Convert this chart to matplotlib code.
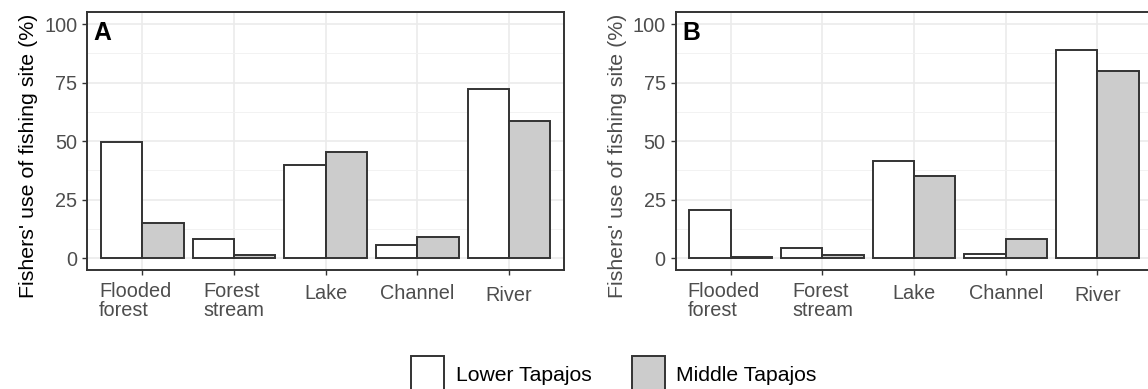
import matplotlib
matplotlib.use("Agg")
import matplotlib.pyplot as plt
import matplotlib.transforms as mtransforms
from matplotlib.patches import Patch
import numpy as np

plt.rcParams["font.family"] = ["Liberation Sans", "DejaVu Sans"]

CATEGORIES = ["Flooded\nforest", "Forest\nstream", "Lake", "Channel", "River"]
SERIES = ["Lower Tapajos", "Middle Tapajos"]

# panel A
LOWER_A = [49.5, 8.4, 39.8, 5.7, 72.2]
MIDDLE_A = [14.9, 1.4, 45.5, 8.9, 58.5]
# panel B
LOWER_B = [20.4, 4.4, 41.6, 2.0, 89.1]
MIDDLE_B = [0.7, 1.4, 35.0, 8.2, 79.9]

FILLS = ["white", "#CCCCCC"]
EDGE = "#333333"
TEXT_GREY = "#4D4D4D"
W, H = 1148, 389


def draw_panel(ax, lower, middle, tag, ylabel_color):
    x = np.arange(len(CATEGORIES))
    bw = 0.45
    for vals, off, fill in [(lower, -bw / 2, FILLS[0]), (middle, bw / 2, FILLS[1])]:
        ax.bar(x + off, vals, width=bw, color=fill, edgecolor=EDGE, linewidth=1.4, zorder=3)

    ax.set_xlim(-0.6, len(CATEGORIES) - 0.4)
    ax.set_ylim(-5, 105)
    ax.set_yticks([0, 25, 50, 75, 100])
    ax.set_yticks([12.5, 37.5, 62.5, 87.5], minor=True)
    ax.set_xticks(x)
    ax.set_xticklabels(CATEGORIES, linespacing=1.05, multialignment="left")
    ax.set_axisbelow(True)
    ax.grid(which="major", color="#EBEBEB", linewidth=1.2)
    ax.grid(which="minor", axis="y", color="#F2F2F2", linewidth=0.7)
    ax.tick_params(which="minor", length=0)
    ax.tick_params(which="major", length=3.6, width=1.0, color=EDGE,
                   labelcolor=TEXT_GREY, labelsize=14.3)
    ax.tick_params(axis="y", pad=3.6)
    ax.tick_params(axis="x", pad=4.8)
    for sp in ax.spines.values():
        sp.set_color(EDGE)
        sp.set_linewidth(1.4)

    ax.set_ylabel("Fishers' use of fishing site (%)", fontsize=15.4, color=ylabel_color)
    ax.yaxis.set_label_coords(-0.103, 0.445)
    ax.text(0.013, 0.968, tag, transform=ax.transAxes, fontsize=17.8,
            fontweight="bold", ha="left", va="top", color="black")

    # small label shifts seen in the original
    fig = ax.figure
    shifts = [(-7, 0), (0, 0), (0, -2), (0, -2), (0, -4)]
    for lab, (dx, dy) in zip(ax.get_xticklabels(), shifts):
        lab.set_transform(lab.get_transform() +
                          mtransforms.ScaledTranslation(dx / 100, dy / 100, fig.dpi_scale_trans))


fig = plt.figure(figsize=(W / 100, H / 100), dpi=100)
ax_a = fig.add_axes([87.3 / W, (H - 270) / H, 476.7 / W, 257.7 / H])
ax_b = fig.add_axes([675.7 / W, (H - 270) / H, 476.7 / W, 257.7 / H])

draw_panel(ax_a, LOWER_A, MIDDLE_A, "A", "black")
draw_panel(ax_b, LOWER_B, MIDDLE_B, "B", TEXT_GREY)

handles = [Patch(facecolor=f, edgecolor=EDGE, linewidth=1.4, label=s) for f, s in zip(FILLS, SERIES)]
fig.legend(handles=handles, loc="center", bbox_to_anchor=(0.5348, 0.0386), ncol=2,
           frameon=False, fontsize=15.2, handlelength=1.57, handleheight=2.3,
           handletextpad=0.55, columnspacing=1.9, borderpad=0, borderaxespad=0)

fig.savefig("out.png", dpi=100)
